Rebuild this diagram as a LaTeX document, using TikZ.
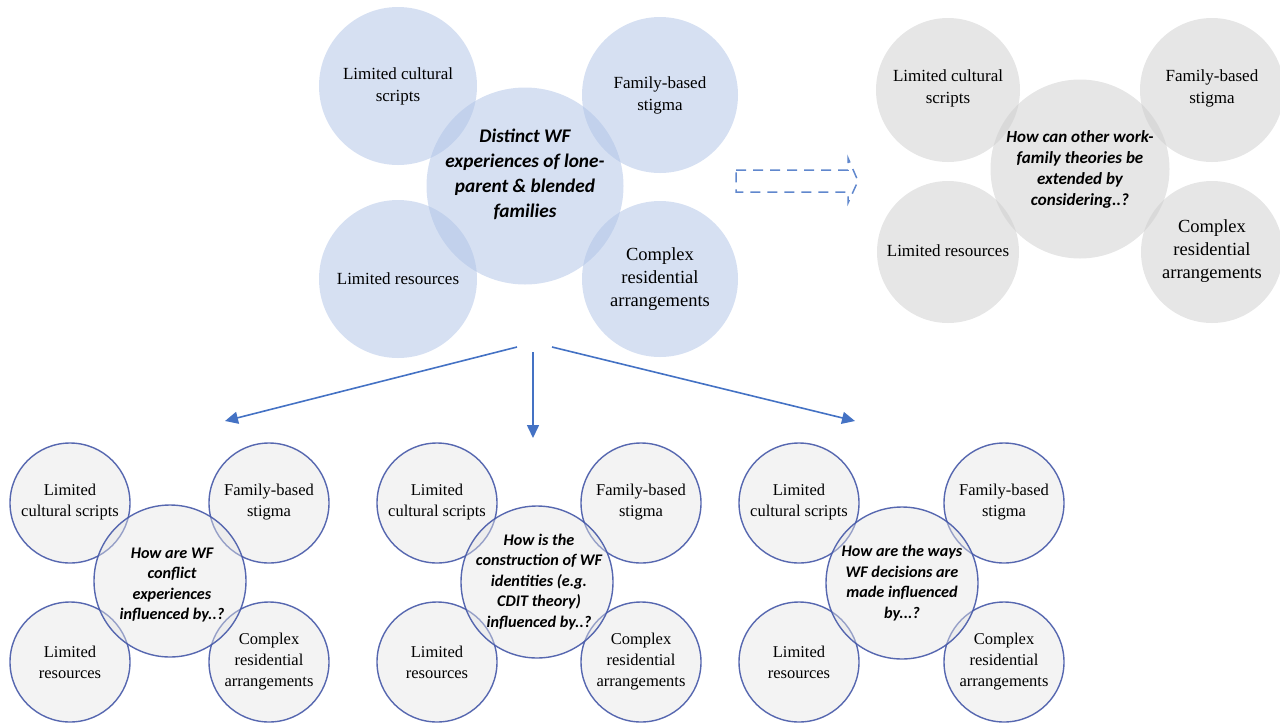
\documentclass[tikz,border=0pt]{standalone}
\usepackage{fontspec}
\setmainfont{Liberation Serif}
\newfontfamily\calfont{Carlito}
\usetikzlibrary{arrows.meta}
\definecolor{topblue}{HTML}{AEC2E6}
\definecolor{topgray}{HTML}{CDCDCD}
\definecolor{ringblue}{HTML}{4558A8}
\definecolor{arrowblue}{HTML}{4472C4}
\begin{document}
\begin{tikzpicture}[x=1pt,y=-1pt,
  bluec/.style={circle, fill=topblue, fill opacity=0.5, draw=none, inner sep=0pt, minimum size=#1},
  grayc/.style={circle, fill=topgray, fill opacity=0.5, draw=none, inner sep=0pt, minimum size=#1},
  ringc/.style={circle, fill=black!10, fill opacity=0.45, draw=ringblue, draw opacity=0.9, line width=1.4pt, inner sep=0pt, minimum size=#1},
  lbl/.style={align=center, inner sep=0pt, font=\fontsize{17}{22}\selectfont},
  lblbig/.style={align=center, inner sep=0pt, font=\fontsize{18.5}{23}\selectfont},
  lblsm/.style={align=center, inner sep=0pt, font=\fontsize{16.5}{21}\selectfont},
  qtop/.style={align=center, inner sep=0pt, font=\calfont\bfseries\itshape\fontsize{19.3}{25}\selectfont},
  qgray/.style={align=center, inner sep=0pt, font=\calfont\bfseries\itshape\fontsize{17}{21}\selectfont},
  qbot/.style={align=center, inner sep=0pt, font=\calfont\bfseries\itshape\fontsize{16.2}{20.5}\selectfont},
  flow/.style={draw=arrowblue, line width=1.6pt, -{Triangle[length=13pt,width=12pt]}},
  blockarrow/.style={draw=arrowblue!85, line width=1.5pt, dash pattern=on 10pt off 7pt}
]
\useasboundingbox (0,0) rectangle (1280,724);

% ---------------- top blue group ----------------
\node[bluec=158pt] (ttl) at (398,86) {};
\node[bluec=156pt] (ttr) at (660,95) {};
\node[bluec=158pt] (tbl) at (398,279) {};
\node[bluec=156pt] (tbr) at (660,279) {};
\node[bluec=197pt] (tc)  at (525,186) {};
\node[lbl] (ttlt) at (398,86) {Limited cultural\\scripts};
\node[lbl] (ttrt) at (660,95) {Family-based\\stigma};
\node[lbl] (tblt) at (398,279) {Limited resources};
\node[lblbig] (tbrt) at (660,279) {Complex\\residential\\arrangements};
\node[qtop] (tct) at (525,174) {Distinct WF\\experiences of lone-\\parent \& blended\\families};

% ---------------- top gray group ----------------
\node[grayc=144pt] (gtl) at (948,90) {};
\node[grayc=144pt] (gtr) at (1212,90) {};
\node[grayc=142pt] (gbl) at (948,252) {};
\node[grayc=142pt] (gbr) at (1212,252) {};
\node[grayc=179pt] (gc)  at (1080,169) {};
\node[lbl] (gtlt) at (948,88) {Limited cultural\\scripts};
\node[lbl] (gtrt) at (1212,88) {Family-based\\stigma};
\node[lbl] (gblt) at (948,251) {Limited resources};
\node[lblbig] (gbrt) at (1212,251) {Complex\\residential\\arrangements};
\node[qgray] (gct) at (1080,169) {How can other work-\\family theories be\\extended by\\considering..?};

% ---------------- dashed block arrow ----------------
\draw[blockarrow] (736,170) -- (848,170) -- (848,158) -- (858,181) -- (848,203) -- (848,192) -- (736,192) -- cycle;

% ---------------- flow arrows ----------------
\coordinate (sL) at (517,347);
\coordinate (sM) at (533,352);
\coordinate (sR) at (552,347);
\coordinate (eL) at (225,421);
\coordinate (eM) at (533,438);
\coordinate (eR) at (855,421);
\draw[flow] (sL) -- (eL);
\draw[flow] (sM) -- (eM);
\draw[flow] (sR) -- (eR);

% ---------------- bottom group 1 ----------------
\node[ringc=120pt] (a1) at (70,503) {};
\node[ringc=120pt] (a2) at (269,503) {};
\node[ringc=120pt] (a3) at (70,662) {};
\node[ringc=120pt] (a4) at (269,662) {};
\node[ringc=152pt] (a0) at (170,581) {};
\node[lblsm] (a1t) at (70,502) {Limited\\cultural scripts};
\node[lblsm] (a2t) at (269,502) {Family-based\\stigma};
\node[lblsm] (a3t) at (70,662) {Limited\\resources};
\node[lblsm] (a4t) at (269,662) {Complex\\residential\\arrangements};
\node[qbot] (a0t) at (172,585) {How are WF\\conflict\\experiences\\influenced by..?};

% ---------------- bottom group 2 ----------------
\node[ringc=120pt] (b1) at (437,503) {};
\node[ringc=120pt] (b2) at (641,503) {};
\node[ringc=120pt] (b3) at (437,662) {};
\node[ringc=120pt] (b4) at (641,662) {};
\node[ringc=152pt] (b0) at (537,582) {};
\node[lblsm] (b1t) at (437,502) {Limited\\cultural scripts};
\node[lblsm] (b2t) at (641,502) {Family-based\\stigma};
\node[lblsm] (b3t) at (437,662) {Limited\\resources};
\node[lblsm] (b4t) at (641,662) {Complex\\residential\\arrangements};
\node[qbot] (b0t) at (539,582) {How is the\\construction of WF\\identities (e.g.\\CDIT theory)\\influenced by..?};

% ---------------- bottom group 3 ----------------
\node[ringc=120pt] (c1) at (799,503) {};
\node[ringc=120pt] (c2) at (1004,503) {};
\node[ringc=120pt] (c3) at (799,662) {};
\node[ringc=120pt] (c4) at (1004,662) {};
\node[ringc=152pt] (c0) at (902,583) {};
\node[lblsm] (c1t) at (799,502) {Limited\\cultural scripts};
\node[lblsm] (c2t) at (1004,502) {Family-based\\stigma};
\node[lblsm] (c3t) at (799,662) {Limited\\resources};
\node[lblsm] (c4t) at (1004,662) {Complex\\residential\\arrangements};
\node[qbot] (c0t) at (902,583) {How are the ways\\WF decisions are\\made influenced\\by...?};
\end{tikzpicture}
\end{document}
